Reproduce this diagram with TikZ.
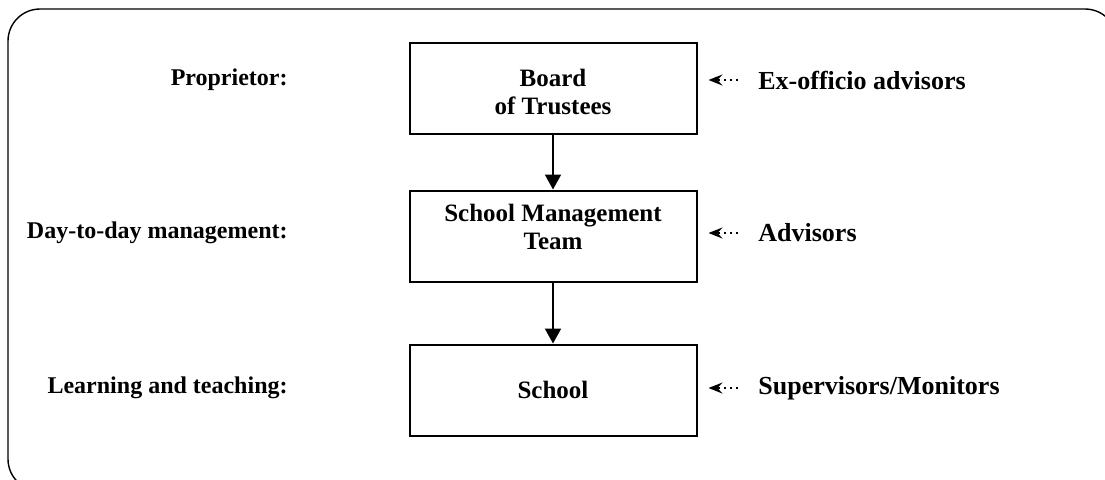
\documentclass[tikz,border=0pt]{standalone}
\usepackage{fontspec}
\setmainfont{Liberation Serif}
\usetikzlibrary{arrows.meta}

\begin{document}
\begin{tikzpicture}[x=0.5pt,y=-0.5pt,
        font=\fontsize{12}{14}\selectfont\bfseries,
        unit/.style={draw, line width=1pt, minimum width=143.5pt, minimum height=45.5pt, inner sep=0pt},
        inside/.style={align=center, font=\fontsize{12.5}{14}\selectfont\bfseries},
        role/.style={anchor=east, inner sep=0pt, font=\fontsize{12}{14}\selectfont\bfseries},
        aid/.style={anchor=west, inner sep=0pt, font=\fontsize{13}{14}\selectfont\bfseries},
        down/.style={line width=1pt, -{Triangle[width=8pt,length=7.5pt]}},
        hint/.style={dotted, line width=1pt, -{Stealth[width=5.5pt,length=7pt,inset=2.5pt]}, shorten <=10pt, shorten >=5.5pt}]
        \useasboundingbox (0,0) rectangle (1105,479);
        \draw[line width=0.7pt, rounded corners=16pt] (8,9) rectangle (1117,491);

        % the three levels
        \node[unit, label={[inside, yshift=-1.5pt]center:{Board\\of Trustees}}] (board) at (553,88.5) {};
        \node[unit, label={[inside, yshift=4.5pt]center:{School Management\\Team}}] (smt) at (553,236) {};
        \node[unit, label={[inside]center:School}] (school) at (553,390) {};

        % what each level is
        \node[role] (prop) at (288,80) {Proprietor:};
        \node[role] (daily) at (288,233) {Day-to-day management:};
        \node[role] (learn) at (288,388) {Learning and teaching:};

        % who advises
        \node[aid] (exoff) at (758,80) {Ex-officio advisors};
        \node[aid] (adv) at (758,233) {Advisors};
        \node[aid] (sup) at (758,388) {Supervisors/Monitors};

        \draw[down] (board) -- (smt);
        \draw[down] (smt) -- (school);
        \draw[hint] (exoff.west) -- (exoff.west -| board.east);
        \draw[hint] (adv.west) -- (adv.west -| smt.east);
        \draw[hint] (sup.west) -- (sup.west -| school.east);
\end{tikzpicture}
\end{document}
